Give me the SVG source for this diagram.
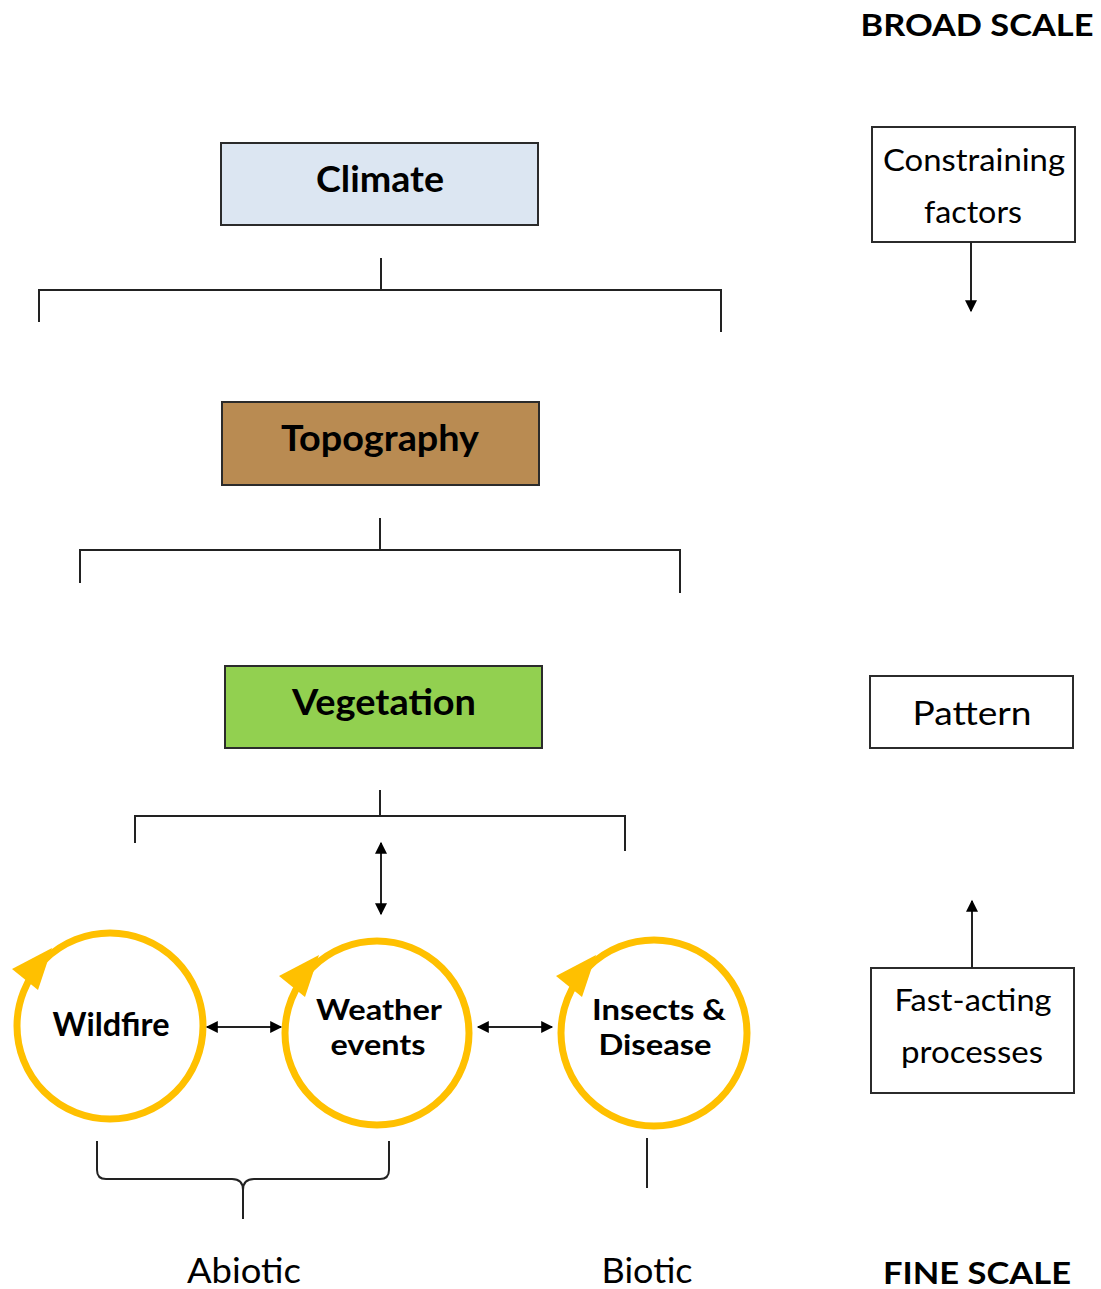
<svg xmlns="http://www.w3.org/2000/svg" width="1101" height="1289" viewBox="0 0 1101 1289">
<defs>
<style>
.t{font-family:Lato,"Open Sans","Liberation Sans",sans-serif;fill:#000;text-anchor:middle}
.b{font-weight:bold}
.box{stroke:#2b2b2b;stroke-width:2}
.ln{fill:none;stroke:#222;stroke-width:2}
.ring{fill:#fff;stroke:#ffc000;stroke-width:7}
.ah{fill:#ffc000}
</style>
<marker id="arr" viewBox="0 0 10 10" refX="9" refY="5" markerWidth="14" markerHeight="12" markerUnits="userSpaceOnUse" orient="auto-start-reverse">
<path d="M0,0 L10,5 L0,10 z" fill="#000"/>
</marker>
<polygon id="loop" points="-98,-57 -72,-36 -58,-78"/>
</defs>
<rect width="1101" height="1289" fill="#fff"/>

<text class="t b" x="977" y="36" font-size="31" textLength="233" lengthAdjust="spacingAndGlyphs">BROAD SCALE</text>
<text class="t b" x="977" y="1284" font-size="31" textLength="188" lengthAdjust="spacingAndGlyphs">FINE SCALE</text>

<g id="climate">
<rect class="box" x="221" y="143" width="317" height="82" fill="#dce6f2"/>
<text class="t b" x="380" y="192" font-size="36" textLength="128" lengthAdjust="spacingAndGlyphs">Climate</text>
</g>
<g id="topography">
<rect class="box" x="222" y="402" width="317" height="83" fill="#b98b52"/>
<text class="t b" x="380" y="451" font-size="36" textLength="198" lengthAdjust="spacingAndGlyphs">Topography</text>
</g>
<g id="vegetation">
<rect class="box" x="225" y="666" width="317" height="82" fill="#92d050"/>
<text class="t b" x="384" y="715" font-size="36" textLength="184" lengthAdjust="spacingAndGlyphs">Vegetation</text>
</g>

<g id="constraining">
<rect class="box" x="872" y="127" width="203" height="115" fill="#fff"/>
<text class="t" x="974" y="171" font-size="30" textLength="182" lengthAdjust="spacingAndGlyphs">Constraining</text>
<text class="t" x="973" y="223" font-size="30" textLength="98" lengthAdjust="spacingAndGlyphs">factors</text>
</g>
<g id="pattern">
<rect class="box" x="870" y="676" width="203" height="72" fill="#fff"/>
<text class="t" x="972" y="725" font-size="32" textLength="119" lengthAdjust="spacingAndGlyphs">Pattern</text>
</g>
<g id="fastacting">
<rect class="box" x="871" y="968" width="203" height="125" fill="#fff"/>
<text class="t" x="973" y="1011" font-size="30" textLength="157" lengthAdjust="spacingAndGlyphs">Fast-acting</text>
<text class="t" x="972" y="1063" font-size="30" textLength="142" lengthAdjust="spacingAndGlyphs">processes</text>
</g>

<g id="wildfire">
<circle class="ring" cx="110" cy="1026" r="93"/>
<use href="#loop" class="ah" x="110" y="1026"/>
<text class="t b" x="111" y="1036" font-size="32" textLength="117" lengthAdjust="spacingAndGlyphs">Wildfire</text>
</g>
<g id="weather">
<circle class="ring" cx="377" cy="1033" r="92"/>
<use href="#loop" class="ah" x="377" y="1033"/>
<text class="t b" x="379" y="1020" font-size="29" textLength="126" lengthAdjust="spacingAndGlyphs">Weather</text>
<text class="t b" x="378" y="1055" font-size="29" textLength="95" lengthAdjust="spacingAndGlyphs">events</text>
</g>
<g id="insects">
<circle class="ring" cx="654" cy="1033" r="93"/>
<use href="#loop" class="ah" x="654" y="1033"/>
<text class="t b" x="659" y="1020" font-size="29" textLength="134" lengthAdjust="spacingAndGlyphs">Insects &amp;</text>
<text class="t b" x="655" y="1055" font-size="29" textLength="113" lengthAdjust="spacingAndGlyphs">Disease</text>
</g>

<g id="abiotic">
<text class="t" x="244" y="1283" font-size="34" textLength="114" lengthAdjust="spacingAndGlyphs">Abiotic</text>
</g>
<g id="biotic">
<text class="t" x="647" y="1283" font-size="34" textLength="91" lengthAdjust="spacingAndGlyphs">Biotic</text>
</g>

<g id="connectors">
<path class="ln" d="M381,258 V290 M39,322 V290 H721 V332"/>
<path class="ln" d="M380,518 V550 M80,583 V550 H680 V593"/>
<path class="ln" d="M380,790 V816 M135,843 V816 H625 V851"/>
<line class="ln" x1="381" y1="843" x2="381" y2="914" marker-start="url(#arr)" marker-end="url(#arr)"/>
<line class="ln" x1="207" y1="1027" x2="281" y2="1027" marker-start="url(#arr)" marker-end="url(#arr)"/>
<line class="ln" x1="478" y1="1027" x2="552" y2="1027" marker-start="url(#arr)" marker-end="url(#arr)"/>
<path class="ln" d="M97,1141 V1170 Q97,1179 106,1179 H232 Q243,1179 243,1190 V1219 M243,1190 Q243,1179 254,1179 H380 Q389,1179 389,1170 V1141"/>
<line class="ln" x1="647" y1="1138" x2="647" y2="1188"/>
<line class="ln" x1="971" y1="242" x2="971" y2="311" marker-end="url(#arr)"/>
<line class="ln" x1="972" y1="968" x2="972" y2="901" marker-end="url(#arr)"/>
</g>
</svg>
